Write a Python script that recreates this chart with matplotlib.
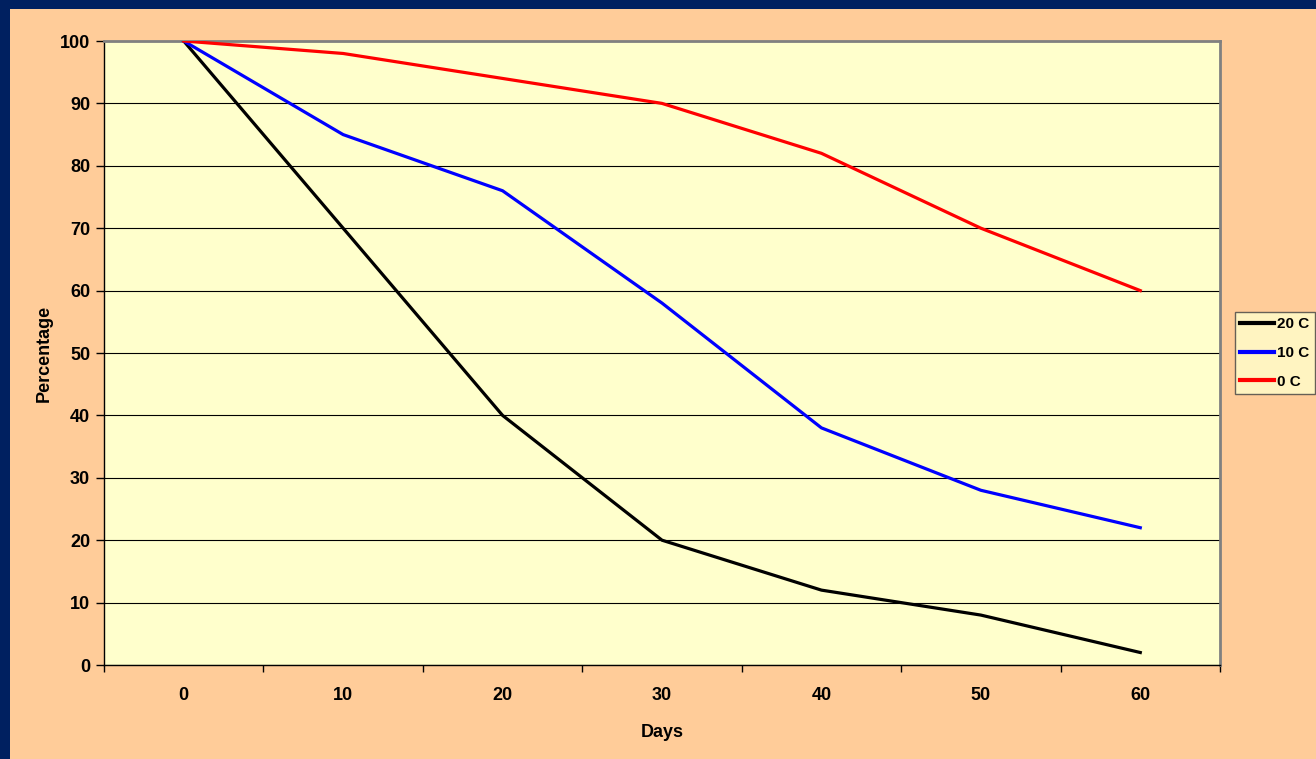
import matplotlib.pyplot as plt
from matplotlib.patches import Rectangle

# survival percentage over storage days at three temperatures
days = [0, 10, 20, 30, 40, 50, 60]
temp_20c = [100, 70, 40, 20, 12, 8, 2]
temp_10c = [100, 85, 76, 58, 38, 28, 22]
temp_0c = [100, 98, 94, 90, 82, 70, 60]

plt.rcParams['font.family'] = ['Liberation Sans', 'DejaVu Sans']
plt.rcParams['font.weight'] = 'bold'

fig = plt.figure(figsize=(13.16, 7.59), dpi=100, facecolor='#002060')
# peach panel inside the dark frame
fig.patches.append(Rectangle((10 / 1316, 0), 1 - 10 / 1316, 1 - 9 / 759,
                             transform=fig.transFigure, facecolor='#FFCC99',
                             edgecolor='none', zorder=-10))

ax = fig.add_axes([104 / 1316, 1 - 665 / 759, 1116 / 1316, 624 / 759])
ax.set_zorder(1)
ax.set_facecolor('#FFFFCC')

x = list(range(len(days)))
ax.plot(x, temp_20c, color='black', lw=2.3, label='20 C', zorder=3)
ax.plot(x, temp_10c, color='#0000FF', lw=2.3, label='10 C', zorder=3)
ax.plot(x, temp_0c, color='#FF0000', lw=2.3, label='0 C', zorder=3)

ax.set_xlim(-0.5, len(days) - 0.5)
ax.set_ylim(0, 100)
ax.set_yticks(range(0, 101, 10))
ax.set_xticks([i - 0.5 for i in range(len(days) + 1)])
ax.set_xticklabels([])
ax.set_xticks(x, minor=True)
ax.set_xticklabels([str(d) for d in days], minor=True)
ax.tick_params(axis='x', which='minor', length=0, pad=16, labelsize=13)
ax.tick_params(axis='x', which='major', length=5, direction='out', width=1)
ax.tick_params(axis='y', length=6, direction='out', width=1, labelsize=13, pad=4)

ax.grid(axis='y', color='black', lw=0.8)
ax.set_axisbelow(True)

for side in ['top', 'right']:
    ax.spines[side].set_color('#808080')
    ax.spines[side].set_linewidth(2)
for side in ['left', 'bottom']:
    ax.spines[side].set_color('black')
    ax.spines[side].set_linewidth(1)

ax.set_xlabel('Days', fontsize=13, fontweight='bold', labelpad=14)
ax.set_ylabel('Percentage', fontsize=13, fontweight='bold', labelpad=5)

leg = ax.legend(loc='center left', bbox_to_anchor=(1.0134, 0.5), fontsize=11,
                frameon=True, fancybox=False, handlelength=2.2, handletextpad=0.2,
                borderpad=0.35, labelspacing=0.95, borderaxespad=0)
leg.get_frame().set_facecolor('#FFFFCC')
leg.get_frame().set_edgecolor('#404040')
leg.get_frame().set_linewidth(1)
for line in leg.get_lines():
    line.set_linewidth(3)

fig.savefig('out.png', dpi=100, facecolor=fig.get_facecolor())
